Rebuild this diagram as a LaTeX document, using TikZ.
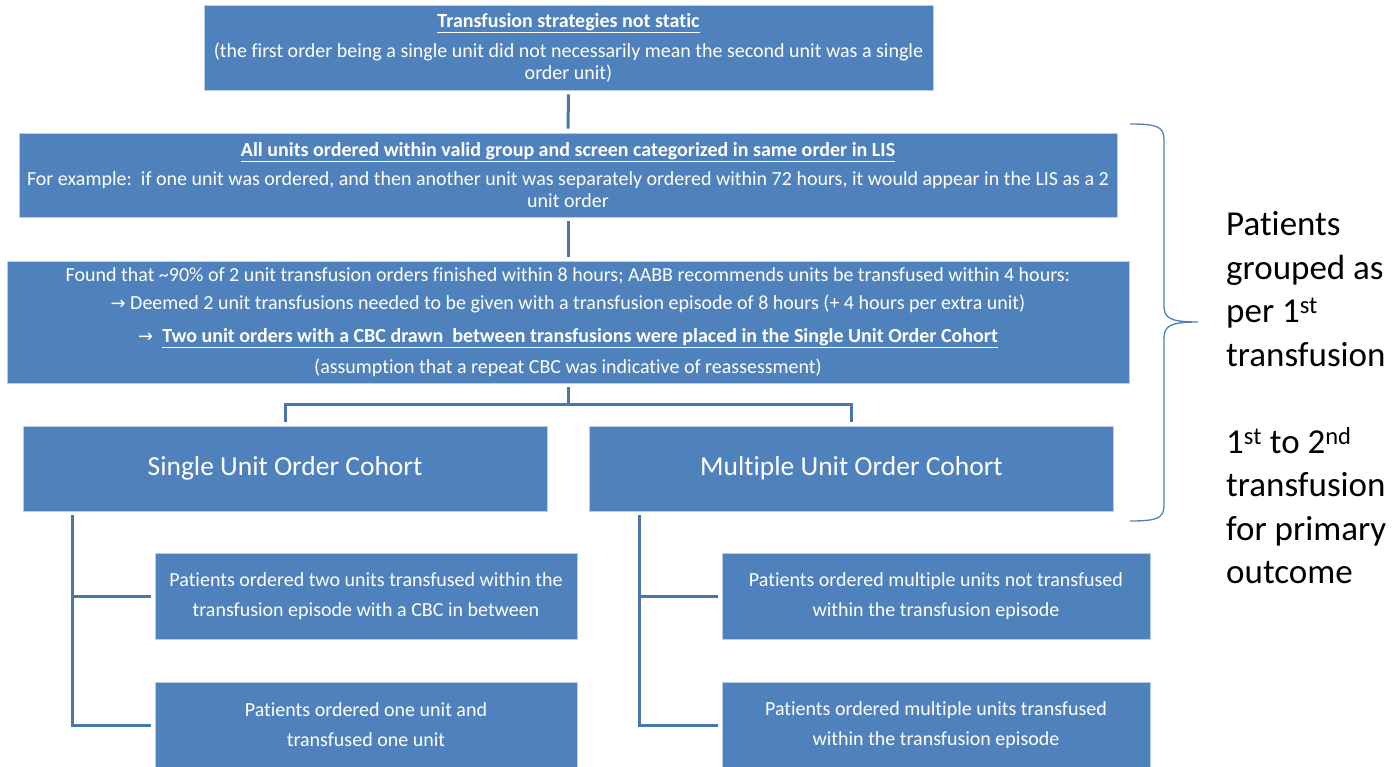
\documentclass[tikz,border=0pt]{standalone}
\usepackage{fontspec}
\setmainfont{Carlito}[Ligatures=NoCommon]
\newfontfamily\arrowfont{DejaVu Sans}
\definecolor{boxblue}{HTML}{4F81BD}
\definecolor{linkblue}{HTML}{4A76B0}
\begin{document}
\begin{tikzpicture}[x=1pt,y=-1pt,
  box/.style={rectangle, fill=boxblue, draw=white!60!boxblue, line width=0.6pt,
    text=white, align=center, inner sep=0pt, font=\fontsize{20}{22}\selectfont},
  cohort/.style={box, minimum width=524pt, minimum height=85pt, font=\fontsize{27.5}{32}\selectfont},
  subbox/.style={box, minimum height=86pt, font=\fontsize{20}{30}\selectfont},
  link/.style={draw=linkblue, line width=3pt, shorten <=4pt, shorten >=4pt},
  bracestyle/.style={draw=boxblue, line width=1.3pt}]
\useasboundingbox (0,0) rectangle (1395,766);

% main chain of boxes
\node[box, minimum width=729pt, minimum height=85pt] (strat) at (568.5,47.5)
  {\underline{\textbf{Transfusion strategies not static}}\\[8pt]
   (the first order being a single unit did not necessarily mean the second unit was a single\\
   order unit)};

\node[box, minimum width=1098pt, minimum height=84pt] (lis) at (568,175)
  {\underline{\textbf{All units ordered within valid group and screen categorized in same order in LIS}}\\[7pt]
   For example:\ \ if one unit was ordered, and then another unit was separately ordered within 72 hours, it would appear in the LIS as a 2\\
   unit order};

\node[box, minimum width=1122pt, minimum height=122pt] (epis) at (568,322)
  {Found that \textasciitilde90\% of 2 unit transfusion orders finished within 8 hours; AABB recommends units be transfused within 4 hours:\\[6pt]
   {\arrowfont\fontsize{18}{22}\selectfont→} Deemed 2 unit transfusions needed to be given with a transfusion episode of 8 hours (+ 4 hours per extra unit)\\[11pt]
   {\arrowfont\fontsize{18}{22}\selectfont→}\ \ \underline{\textbf{Two unit orders with a CBC drawn\ \ between transfusions were placed in the Single Unit Order Cohort}}\\[9pt]
   (assumption that a repeat CBC was indicative of reassessment)};

% cohorts
\node[cohort] (single) at (285,468.5) {Single Unit Order Cohort};
\node[cohort] (multi) at (851.5,468.5) {Multiple Unit Order Cohort};

% sub-groups
\node[subbox, minimum width=422pt] (l1) at (366,596)
  {Patients ordered two units transfused within the\\ transfusion episode with a CBC in between};
\node[subbox, minimum width=422pt] (l2) at (366,725)
  {Patients ordered one unit and\\ transfused one unit};
\node[subbox, minimum width=428pt] (r1) at (936,596)
  {Patients ordered multiple units not transfused\\ within the transfusion episode};
\node[subbox, minimum width=428pt] (r2) at (936,725)
  {Patients ordered multiple units transfused\\ within the transfusion episode};

% connectors
\draw[link] (strat.south) -- (lis.north);
\draw[link] (lis.south) -- (epis.north);
\coordinate (split) at (568,404);
\draw[link, shorten >=0pt] (epis.south) -- (split);
\draw[link, line join=miter] (single.north) |- (split) -| (multi.north);

\path (single.south west) ++(50,0) coordinate (ltop);
\path (multi.south west) ++(50,0) coordinate (rtop);
\draw[link, line join=miter] (ltop) |- (l1.west);
\draw[link, line join=miter] (ltop) |- (l2.west);
\draw[link, line join=miter] (rtop) |- (r1.west);
\draw[link, line join=miter] (rtop) |- (r2.west);

% brace
\coordinate (btop) at (1130,124);
\coordinate (btip) at (1198,322);
\coordinate (bbot) at (1130,521);
\draw[bracestyle] (btop) .. controls (1158,124) and (1164,127) .. (1164,140)
  -- (1164,306) .. controls (1164,318) and (1170,322) .. (btip)
  .. controls (1170,322) and (1164,326) .. (1164,338)
  -- (1164,505) .. controls (1164,518) and (1158,521) .. (bbot);

% side note
\node[anchor=west, align=left, inner sep=0pt, font=\fontsize{35}{43.5}\selectfont] (note) at (1226,398)
  {Patients\\ grouped as\\ per 1\textsuperscript{st}\\ transfusion\\[43.5pt]
   1\textsuperscript{st} to 2\textsuperscript{nd}\\ transfusion\\ for primary\\ outcome};
\end{tikzpicture}
\end{document}
